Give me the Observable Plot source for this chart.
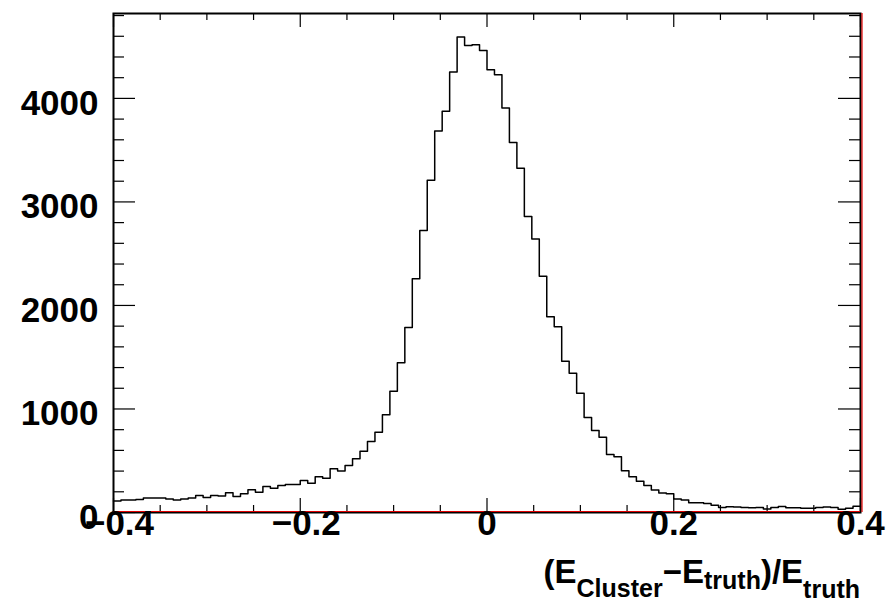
<!DOCTYPE html>
<html>
<head>
<meta charset="utf-8">
<script src="https://cdn.jsdelivr.net/npm/d3@7"></script>
<script src="https://cdn.jsdelivr.net/npm/@observablehq/plot@0.6"></script>
<style>
  html, body { margin: 0; padding: 0; background: #fff; }
  svg { display: block; }
</style>
</head>
<body>
<div id="chart"></div>
<script>
// Histogram contents: 100 bins between -0.4 and 0.4
const counts = [
  110, 120, 120, 125, 140, 140, 140, 130, 120, 130,
  140, 165, 145, 165, 160, 190, 155, 180, 220, 195,
  250, 235, 260, 270, 270, 309, 283, 345, 332, 422,
  400, 454, 518, 592, 686, 776, 943, 1172, 1446, 1788,
  2257, 2724, 3210, 3684, 3877, 4254, 4592, 4511, 4518, 4463,
  4276, 4228, 3906, 3574, 3326, 2858, 2642, 2283, 1890, 1794,
  1460, 1346, 1153, 918, 792, 727, 561, 538, 403, 346,
  301, 260, 218, 188, 180, 130, 120, 95, 93, 87,
  71, 48, 55, 52, 48, 45, 48, 35, 48, 58,
  45, 45, 42, 42, 48, 52, 48, 32, 42, 61
];
const xMin = -0.4;
const xMax = 0.4;
const yMax = 4820;

const xMajorTicks = [-0.4, -0.2, 0, 0.2, 0.4];
const xTickLabels = ["\u22120.4", "\u22120.2", "0", "0.2", "0.4"];
const xMinorTicks = [-0.35, -0.3, -0.25, -0.15, -0.1, -0.05, 0.05, 0.1, 0.15, 0.25, 0.3, 0.35];
const yMajorTicks = [0, 1000, 2000, 3000, 4000];
const yTickLabels = ["0", "1000", "2000", "3000", "4000"];
const yMinorTicks = [200, 400, 600, 800, 1200, 1400, 1600, 1800, 2200, 2400, 2600, 2800,
                     3200, 3400, 3600, 3800, 4200, 4400, 4600, 4800];

const nBins = counts.length;
const binWidth = (xMax - xMin) / nBins;
const steps = counts.map((c, i) => ({x: xMin + i * binWidth, y: c}))
  .concat([{x: xMax, y: counts[nBins - 1]}]);

const xLabelRows = xMajorTicks.map((v, i) => ({v, label: xTickLabels[i]}));
const negLabels = xLabelRows.filter(d => d.v < 0);
const posLabels = xLabelRows.filter(d => d.v >= 0);

const W = 888, H = 605;
const mL = 113, mR = 28, mT = 13, mB = 93;
const innerW = W - mL - mR, innerH = H - mT - mB;
const font = "'Liberation Sans', Arial, Helvetica, sans-serif";

const svg = Plot.plot({
  width: W, height: H,
  marginLeft: mL, marginRight: mR, marginTop: mT, marginBottom: mB,
  x: {domain: [xMin, xMax], axis: null},
  y: {domain: [0, yMax], axis: null},
  style: {fontFamily: font, background: "white", overflow: "visible"},
  marks: [
    Plot.line(steps, {x: "x", y: "y", curve: "step-after", stroke: "black", strokeWidth: 1.5}),
    // bottom ticks
    Plot.ruleX(xMajorTicks, {insetTop: innerH - 14, stroke: "black", strokeWidth: 1.2}),
    Plot.ruleX(xMinorTicks, {insetTop: innerH - 7, stroke: "black", strokeWidth: 1.2}),
    // top ticks
    Plot.ruleX(xMajorTicks, {insetBottom: innerH - 14, stroke: "black", strokeWidth: 1.2}),
    Plot.ruleX(xMinorTicks, {insetBottom: innerH - 7, stroke: "black", strokeWidth: 1.2}),
    // left ticks
    Plot.ruleY(yMajorTicks, {insetRight: innerW - 22, stroke: "black", strokeWidth: 1.2}),
    Plot.ruleY(yMinorTicks, {insetRight: innerW - 11, stroke: "black", strokeWidth: 1.2}),
    // right ticks
    Plot.ruleY(yMajorTicks, {insetLeft: innerW - 22, stroke: "black", strokeWidth: 1.2}),
    Plot.ruleY(yMinorTicks, {insetLeft: innerW - 11, stroke: "black", strokeWidth: 1.2}),
    Plot.frame({stroke: "black", strokeWidth: 2}),
    Plot.ruleY([0], {stroke: "#e00000", strokeWidth: 1.2, dy: -1}),
    Plot.ruleX([xMax], {stroke: "#e00000", strokeWidth: 1.2, dx: 1.5}),
    // tick labels
    Plot.text(yMajorTicks, {
      y: d => d, frameAnchor: "left", text: (d, i) => yTickLabels[i],
      textAnchor: "end", dx: -15, dy: 5, fontSize: 35, fontWeight: "bold", fill: "black"
    }),
    Plot.text(negLabels, {
      x: "v", frameAnchor: "bottom", text: "label",
      dx: 6, dy: 22.5, fontSize: 35, fontWeight: "bold", fill: "black"
    }),
    Plot.text(posLabels, {
      x: "v", frameAnchor: "bottom", text: "label",
      dy: 22.5, fontSize: 35, fontWeight: "bold", fill: "black"
    })
  ]
});

// axis title with subscripts
const t = d3.select(svg).append("text")
  .attr("x", W - mR)
  .attr("y", 583)
  .attr("text-anchor", "end")
  .attr("font-family", font)
  .attr("font-weight", "bold")
  .attr("font-size", 33)
  .attr("fill", "black");
t.append("tspan").text("(E");
t.append("tspan").attr("font-size", 25).attr("dy", 14).text("Cluster");
t.append("tspan").attr("dy", -14).text("\u2212E");
t.append("tspan").attr("font-size", 25).attr("dy", 6).text("truth");
t.append("tspan").attr("dy", -6).text(")/E");
t.append("tspan").attr("font-size", 25).attr("dy", 15).text("truth");

document.getElementById("chart").appendChild(svg);
</script>
</body>
</html>
